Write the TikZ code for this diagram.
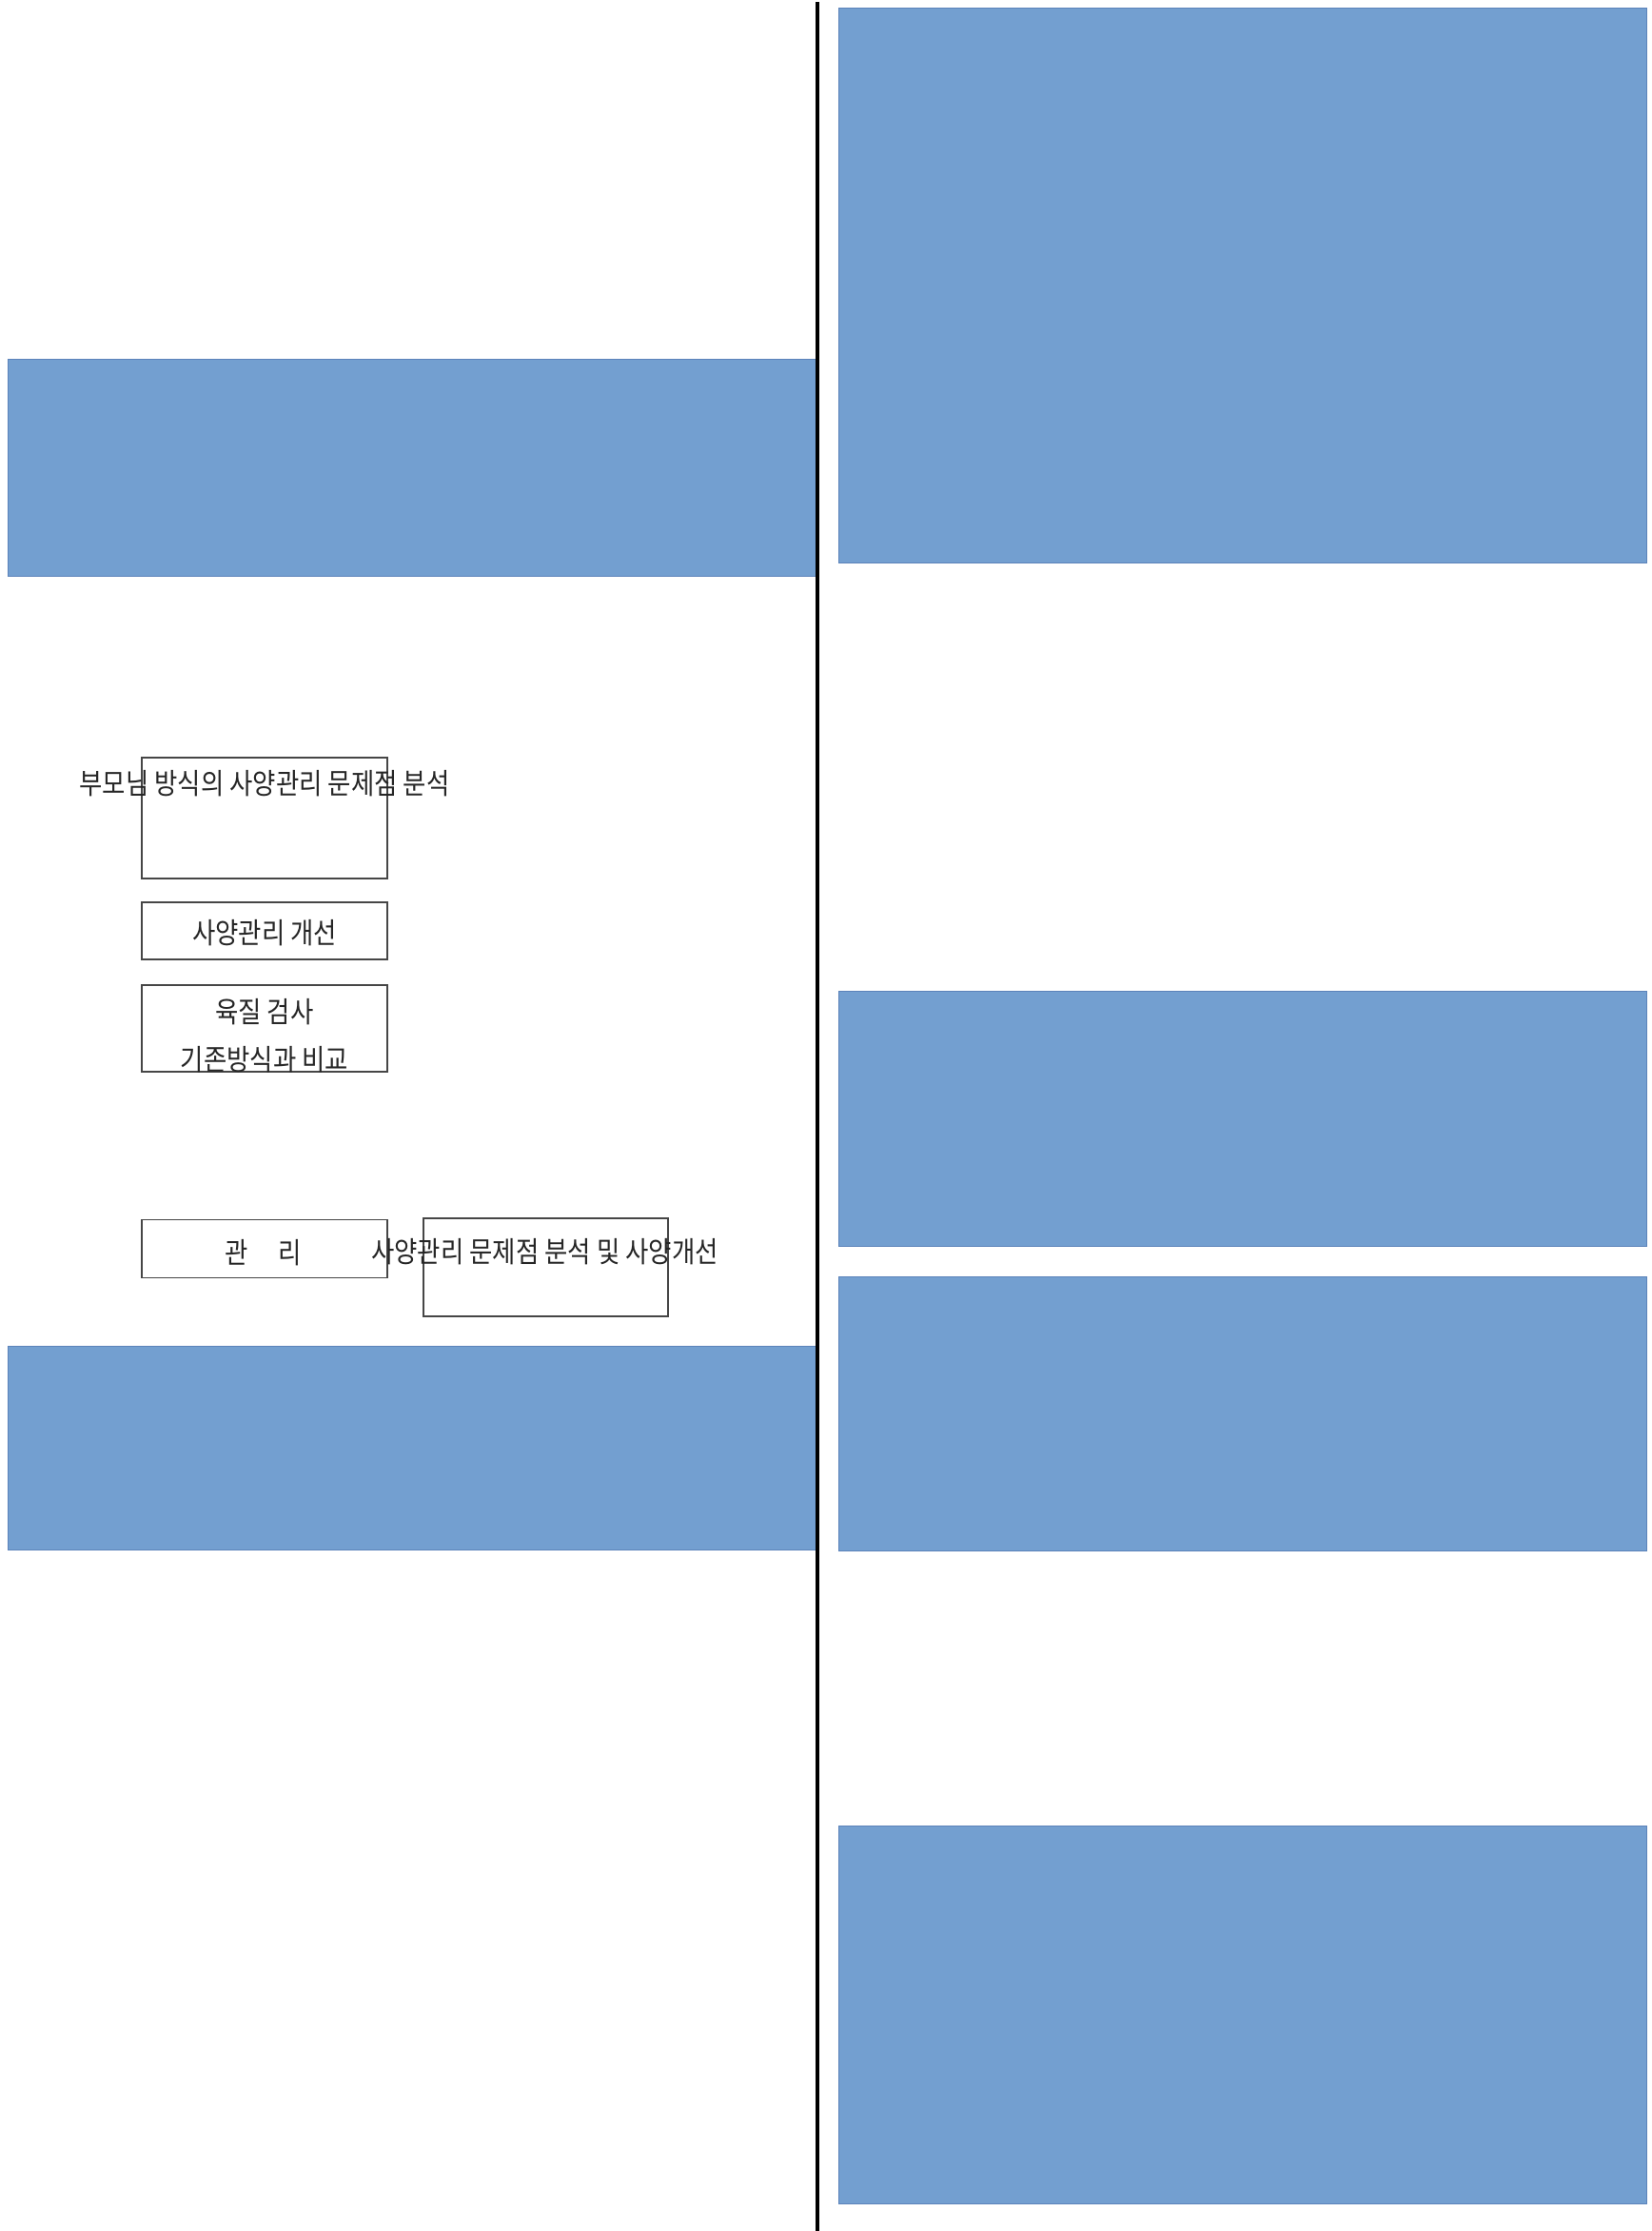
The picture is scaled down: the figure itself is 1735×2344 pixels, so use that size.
\documentclass[tikz,border=0pt]{standalone}
\usepackage{fontspec}
\newfontfamily\kr{Noto Sans CJK KR}[FakeStretch=0.87]
\definecolor{bluefill}{RGB}{115,159,208}
\definecolor{blueedge}{RGB}{92,131,186}
\definecolor{boxline}{RGB}{70,70,70}
\begin{document}
\begin{tikzpicture}[x=0.5pt,y=-0.5pt,
  bluebox/.style={draw=blueedge,line width=0.5pt,fill=bluefill,inner sep=0pt},
  thinbox/.style={draw=boxline,line width=0.6pt,inner sep=0pt},
  label/.style={font=\kr\fontsize{15.2}{18}\selectfont,inner sep=0pt,text=black!85}]
\path[use as bounding box,fill=white] (0,0) rectangle (1735,2344);
% blue panels
\node[bluebox,minimum width=424.5pt,minimum height=291pt] (r1) at (1305.5,300) {};
\node[bluebox,minimum width=424.5pt,minimum height=114pt] (l1) at (432.5,491) {};
\node[bluebox,minimum width=424.5pt,minimum height=134pt] (r2) at (1305.5,1175) {};
\node[bluebox,minimum width=424.5pt,minimum height=144pt] (r3) at (1305.5,1485) {};
\node[bluebox,minimum width=424.5pt,minimum height=107pt] (l2) at (432.5,1521) {};
\node[bluebox,minimum width=424.5pt,minimum height=198.5pt] (r4) at (1305.5,2116.5) {};
% divider
\coordinate (dtop) at (859,2);
\coordinate (dbot) at (859,2344);
\draw[line width=1.75pt,black] (dtop) -- (dbot);
% thin boxes
\node[thinbox,minimum width=129pt,minimum height=63.5pt] (b1) at (278,859.5) {};
\node[thinbox,minimum width=129pt,minimum height=30pt] (b2) at (278,978) {};
\node[thinbox,minimum width=129pt,minimum height=45.5pt] (b3) at (278,1080.5) {};
\node[thinbox,minimum width=129pt,minimum height=30.5pt] (b4) at (278,1312) {};
\node[thinbox,minimum width=128.5pt,minimum height=51.5pt] (b5) at (573.5,1331.5) {};
% texts
\node[label] (t1) at (278,823) {부모님 방식의 사양관리 문제점 분석};
\node[label] (t2) at (278,980) {사양관리 개선};
\node[label] (t3a) at (278,1063) {육질 검사};
\node[label] (t3b) at (278,1113) {기존방식과 비교};
\node[label] (t4) at (277,1316) {관\hspace{16pt}리};
\node[label] (t5) at (572.5,1315) {사양관리 문제점 분석 및 사양개선};
\end{tikzpicture}
\end{document}
